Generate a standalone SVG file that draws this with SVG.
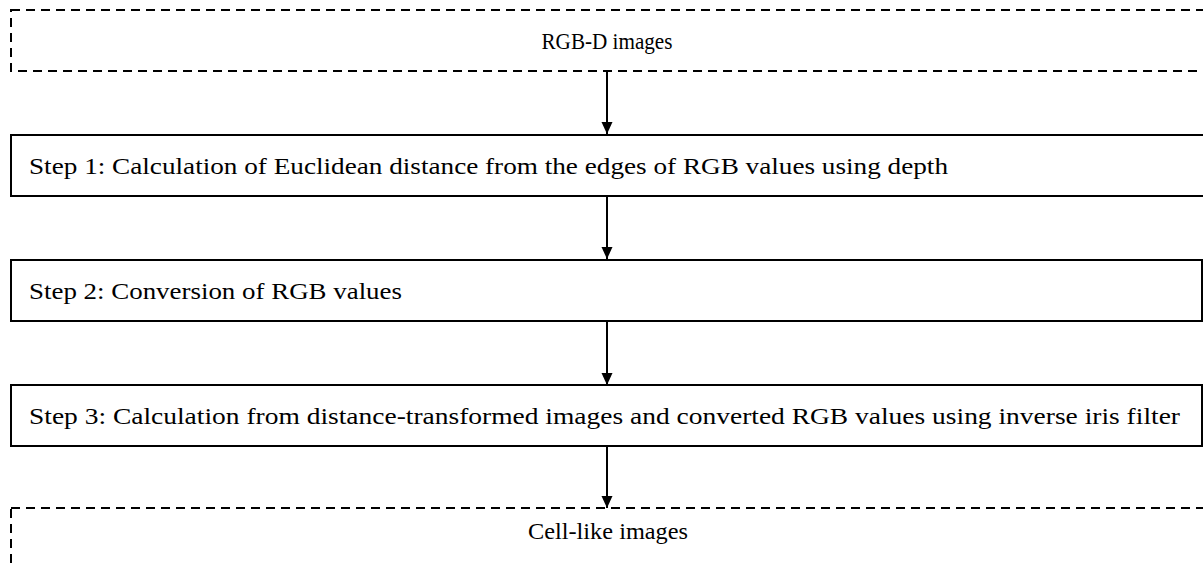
<svg xmlns="http://www.w3.org/2000/svg" width="1203" height="567" viewBox="0 0 1203 567">
  <defs>
    <marker id="arrow" viewBox="0 0 12 12" refX="12" refY="6" markerWidth="12" markerHeight="12" markerUnits="userSpaceOnUse" orient="auto">
      <path d="M0,0.5 L12,6 L0,11.5 Z" fill="#000"/>
    </marker>
    <style>
      .solid { fill: #fff; stroke: #000; stroke-width: 2; }
      .dash { fill: #fff; stroke: #000; stroke-width: 2; stroke-dasharray: 9 6; }
      .lbl { font-family: "Liberation Serif", "Times New Roman", serif; font-size: 23px; fill: #000; }
      .conn { stroke: #000; stroke-width: 2; fill: none; marker-end: url(#arrow); }
    </style>
  </defs>
  <rect width="1203" height="567" fill="#fff"/>
  <g id="connectors">
    <line class="conn" x1="607" y1="71" x2="607" y2="134"/>
    <line class="conn" x1="607" y1="196" x2="607" y2="259"/>
    <line class="conn" x1="607" y1="321" x2="607" y2="385"/>
    <line class="conn" x1="607" y1="446" x2="607" y2="508"/>
  </g>
  <g id="rgbd">
    <rect class="dash" x="11" y="10" width="1200" height="61"/>
    <text class="lbl" x="607" y="49" text-anchor="middle" textLength="131" lengthAdjust="spacingAndGlyphs">RGB-D images</text>
  </g>
  <g id="step1">
    <rect class="solid" x="11" y="135" width="1200" height="61"/>
    <text class="lbl" x="29" y="174" textLength="919" lengthAdjust="spacingAndGlyphs">Step 1: Calculation of Euclidean distance from the edges of RGB values using depth</text>
  </g>
  <g id="step2">
    <rect class="solid" x="11" y="260" width="1191" height="61"/>
    <text class="lbl" x="29" y="299" textLength="373" lengthAdjust="spacingAndGlyphs">Step 2: Conversion of RGB values</text>
  </g>
  <g id="step3">
    <rect class="solid" x="11" y="385" width="1191" height="61"/>
    <text class="lbl" x="29" y="424" textLength="1151" lengthAdjust="spacingAndGlyphs">Step 3: Calculation from distance-transformed images and converted RGB values using inverse iris filter</text>
  </g>
  <g id="cell">
    <rect class="dash" x="11" y="508" width="1200" height="80"/>
    <text class="lbl" x="608" y="539" text-anchor="middle" textLength="160" lengthAdjust="spacingAndGlyphs">Cell-like images</text>
  </g>
</svg>
